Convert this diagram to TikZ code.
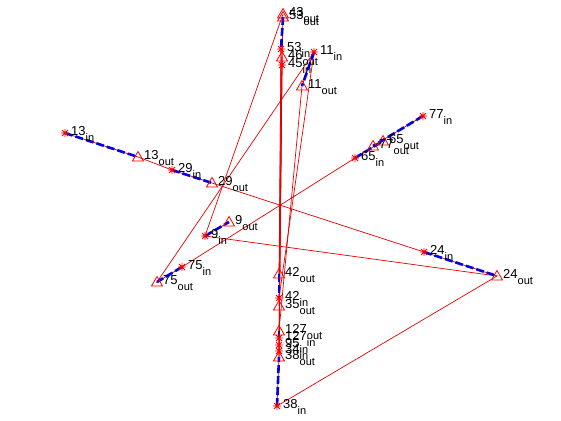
\documentclass[tikz,border=0pt]{standalone}
\usepackage{fontspec}
\setmainfont{Liberation Sans}
\newcommand{\lbl}[2]{{\fontsize{13}{13}\selectfont #1}\raisebox{-6pt}{\fontsize{11}{11}\selectfont #2}}
\tikzset{
  redline/.style={draw=red!90!black, line width=0.7pt},
  bluedash/.style={draw=blue!90!black, line width=2.6pt, dash pattern=on 8pt off 3pt},
  lab/.style={anchor=base west, inner sep=0pt, xshift=6pt, yshift=-2.5pt, text=black},
  starmark/.pic={\draw[red, line width=0.8pt] (-4,0)--(4,0) (0,-4)--(0,4) (-3,-3)--(3,3) (-3,3)--(3,-3);},
  trimark/.pic={\draw[red, line width=0.8pt] (-5.5,4)--(0,-5.5)--(5.5,4)--cycle;}
}
\begin{document}
\begin{tikzpicture}[x=1pt,y=-1pt]
\fill[white] (0,0) rectangle (561,420);
\useasboundingbox (0,0) rectangle (561,420);
% points
\coordinate (n13in) at (65,133);
\coordinate (n13out) at (138,157);
\coordinate (n29in) at (172,170);
\coordinate (n29out) at (212,183);
\coordinate (n77in) at (423,116);
\coordinate (n77out) at (373,146);
\coordinate (n65out) at (383,141);
\coordinate (n65in) at (355,158);
\coordinate (n9in) at (205,236);
\coordinate (n9out) at (229,222);
\coordinate (n75in) at (182,267);
\coordinate (n75out) at (157,282);
\coordinate (n24in) at (424,252);
\coordinate (n24out) at (497,276);
\coordinate (n38in) at (277,406);
\coordinate (n38out) at (279,357);
\coordinate (n42out) at (279,274);
\coordinate (n42in) at (279,298);
\coordinate (n35out) at (279,306);
\coordinate (n127out) at (279,331);
\coordinate (n127in) at (279,338);
\coordinate (n95in) at (279,345);
\coordinate (n34in) at (279,351);
\coordinate (n43out) at (283,14);
\coordinate (n53out) at (283,17);
\coordinate (n53in) at (281,49);
\coordinate (n46out) at (282,57);
\coordinate (n45in) at (282,65);
\coordinate (n11in) at (314,52);
\coordinate (n11out) at (302,86);
% red connectors
\draw[redline] (n13in) -- (n13out) -- (n29in) -- (n29out) -- (n24in) -- (n24out) -- (n38in);
\draw[redline] (n38in) -- (n38out);
\draw[redline] (n24out) -- (n9in) -- (n9out);
\draw[redline] (n9in) -- (n43out);
\draw[redline] (n11in) -- (n75out) -- (n75in) -- (n65in) -- (n65out) -- (n77out) -- (n77in);
\draw[redline] (n11in) -- (n11out);
\draw[redline] (n45in) -- (n38out);
\draw[redline] (n46out) -- (n95in);
\draw[redline] (n53in) -- (n42out);
\draw[redline] (n45in) -- (n127in);
\draw[redline] (n46out) -- (n38out);
\draw[redline] (n53in) -- (n35out);
\draw[redline] (n11out) -- (n127out);
\draw[redline] (n11in) -- (n42in);
\draw[redline] (n53out) -- (n45in);
\draw[redline] (n42out) -- (n34in);
% blue dashed pairs
\draw[bluedash] (n13in) -- (n13out);
\draw[bluedash] (n29in) -- (n29out);
\draw[bluedash] (n77in) -- (n77out);
\draw[bluedash] (n65in) -- (n65out);
\draw[bluedash] (n9in) -- (n9out);
\draw[bluedash] (n75in) -- (n75out);
\draw[bluedash] (n24in) -- (n24out);
\draw[bluedash] (n38in) -- (n38out);
\draw[bluedash] (n42out) -- (n42in);
\draw[bluedash] (n11in) -- (n11out);
\draw[bluedash] (n53out) -- (n53in);
\draw[bluedash] (n127out) -- (n127in);
% markers
\foreach \p in {n13in,n29in,n77in,n65in,n9in,n75in,n24in,n38in,n42in,n127in,n95in,n34in,n53in,n45in,n11in}
  \pic at (\p) {starmark};
\foreach \p in {n13out,n29out,n77out,n65out,n9out,n75out,n24out,n38out,n42out,n35out,n127out,n43out,n53out,n46out,n11out}
  \pic at (\p) {trimark};
% labels
\node[lab] (l13in) at (n13in) {\lbl{13}{in}};
\node[lab] (l13out) at (n13out) {\lbl{13}{out}};
\node[lab] (l29in) at (n29in) {\lbl{29}{in}};
\node[lab] (l29out) at (n29out) {\lbl{29}{out}};
\node[lab] (l77in) at (n77in) {\lbl{77}{in}};
\node[lab] (l77out) at (n77out) {\lbl{77}{out}};
\node[lab] (l65out) at (n65out) {\lbl{65}{out}};
\node[lab] (l65in) at (n65in) {\lbl{65}{in}};
\node[lab] (l9in) at (n9in) {\lbl{9}{in}};
\node[lab] (l9out) at (n9out) {\lbl{9}{out}};
\node[lab] (l75in) at (n75in) {\lbl{75}{in}};
\node[lab] (l75out) at (n75out) {\lbl{75}{out}};
\node[lab] (l24in) at (n24in) {\lbl{24}{in}};
\node[lab] (l24out) at (n24out) {\lbl{24}{out}};
\node[lab] (l38in) at (n38in) {\lbl{38}{in}};
\node[lab] (l38out) at (n38out) {\lbl{38}{out}};
\node[lab] (l42out) at (n42out) {\lbl{42}{out}};
\node[lab] (l42in) at (n42in) {\lbl{42}{in}};
\node[lab] (l35out) at (n35out) {\lbl{35}{out}};
\node[lab] (l127out) at (n127out) {\lbl{127}{out}};
\node[lab] (l127in) at (n127in) {\lbl{127}{in}};
\node[lab] (l95in) at (n95in) {\lbl{95}{in}};
\node[lab] (l34in) at (n34in) {\lbl{34}{in}};
\node[lab] (l43out) at (n43out) {\lbl{43}{out}};
\node[lab] (l53out) at (n53out) {\lbl{53}{out}};
\node[lab] (l53in) at (n53in) {\lbl{53}{in}};
\node[lab] (l46out) at (n46out) {\lbl{46}{out}};
\node[lab] (l45in) at (n45in) {\lbl{45}{in}};
\node[lab] (l11in) at (n11in) {\lbl{11}{in}};
\node[lab] (l11out) at (n11out) {\lbl{11}{out}};
\end{tikzpicture}
\end{document}
